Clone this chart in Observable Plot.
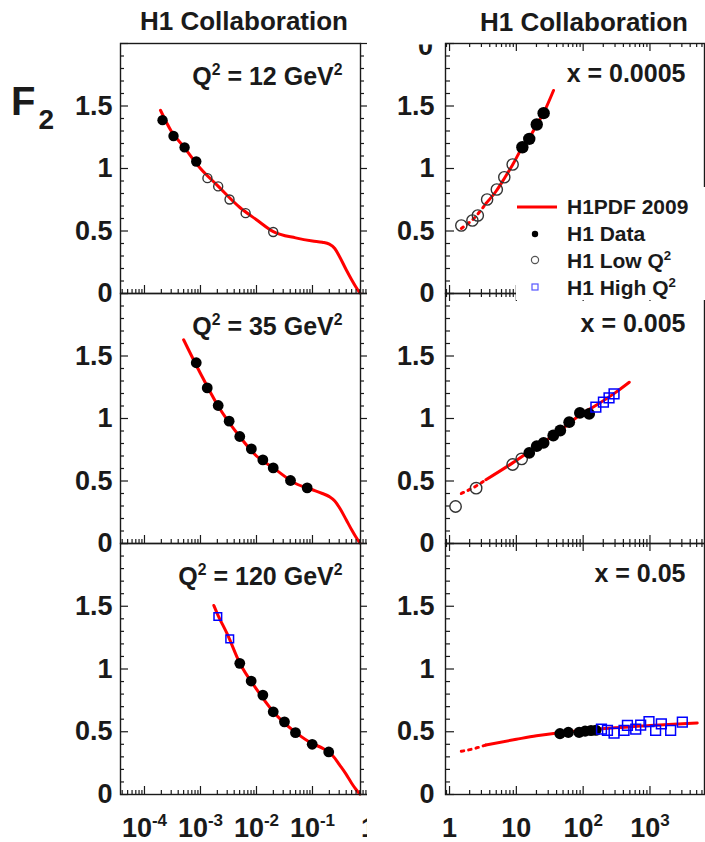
<!DOCTYPE html>
<html>
<head>
<meta charset="utf-8">
<script src="https://cdn.jsdelivr.net/npm/d3@7"></script>
<script src="https://cdn.jsdelivr.net/npm/@observablehq/plot@0.6"></script>
<style>
  body { margin: 0; background: #fff; }
  #root { position: relative; width: 705px; height: 842px; overflow: hidden; background: #fff;
          font-family: "Liberation Sans", Arial, Helvetica, sans-serif; font-weight: bold; }
</style>
</head>
<body>
<div id="root"></div>
<script>
// ---------------- tick labels and texts ----------------
const leftTicksX = [1e-4, 1e-3, 1e-2, 1e-1, 1];
const leftTickLabels = ["10^{-4}", "10^{-3}", "10^{-2}", "10^{-1}", "1"];
const rightTicksX = [1, 10, 100, 1000];
const rightTickLabels = ["1", "10", "10^{2}", "10^{3}"];
const yTicks = [0, 0.5, 1, 1.5];
const yTickLabels = ["0", "0.5", "1", "1.5"];
const titles = ["H1 Collaboration", "H1 Collaboration"];
const q2Labels = ["Q^{2} = 12 GeV^{2}", "Q^{2} = 35 GeV^{2}", "Q^{2} = 120 GeV^{2}"];
const xBinLabels = ["x = 0.0005", "x = 0.005", "x = 0.05"];
const legendLabels = ["H1PDF 2009", "H1 Data", "H1 Low Q^{2}", "H1 High Q^{2}"];

// ---------------- left column: F2 vs x ----------------
// Q2 = 12 GeV2
const q12H1X = [2.1e-4, 3.3e-4, 5.2e-4, 8.4e-4];
const q12H1F2 = [1.387, 1.26, 1.169, 1.056];
const q12LowX = [1.33e-3, 2.07e-3, 3.3e-3, 6.4e-3, 0.0199];
const q12LowF2 = [0.923, 0.857, 0.752, 0.643, 0.492];
const q12FitX = [1.93e-4, 3e-4, 5e-4, 1e-3, 2e-3, 5e-3, 0.01, 0.02, 0.05, 0.1, 0.15, 0.2, 0.25, 0.3, 0.4, 0.5, 0.6, 0.7];
const q12FitF2 = [1.466, 1.30, 1.175, 1.0, 0.865, 0.69, 0.59, 0.495, 0.445, 0.42, 0.41, 0.395, 0.36, 0.30, 0.19, 0.11, 0.05, 0.005];
// Q2 = 35 GeV2
const q35H1X = [8.4e-4, 1.32e-3, 2.07e-3, 3.25e-3, 5.03e-3, 8.1e-3, 0.013, 0.0199, 0.0405, 0.0804];
const q35H1F2 = [1.446, 1.245, 1.104, 0.979, 0.856, 0.757, 0.669, 0.605, 0.504, 0.445];
const q35FitX = [5e-4, 1e-3, 2e-3, 5e-3, 0.01, 0.02, 0.05, 0.1, 0.15, 0.2, 0.25, 0.3, 0.4, 0.5, 0.6, 0.7];
const q35FitF2 = [1.63, 1.36, 1.11, 0.856, 0.70, 0.605, 0.48, 0.43, 0.40, 0.375, 0.34, 0.29, 0.19, 0.11, 0.05, 0.005];
// Q2 = 120 GeV2
const q120HighX = [2.04e-3, 3.33e-3];
const q120HighF2 = [1.418, 1.24];
const q120H1X = [5.03e-3, 8.03e-3, 0.013, 0.0199, 0.0316, 0.0497, 0.0988, 0.195];
const q120H1F2 = [1.045, 0.904, 0.792, 0.659, 0.579, 0.493, 0.40, 0.339];
const q120FitX = [1.73e-3, 2e-3, 3e-3, 5e-3, 0.01, 0.02, 0.05, 0.1, 0.15, 0.2, 0.25, 0.3, 0.4, 0.5, 0.6, 0.7];
const q120FitF2 = [1.506, 1.44, 1.28, 1.05, 0.84, 0.66, 0.495, 0.405, 0.37, 0.335, 0.29, 0.24, 0.16, 0.09, 0.04, 0.003];

// ---------------- right column: F2 vs Q2 ----------------
// x = 0.0005
const x1LowQ2 = [1.5, 2.2, 2.65, 3.65, 5.1, 6.6, 8.8];
const x1LowF2 = [0.544, 0.584, 0.624, 0.752, 0.832, 0.93, 1.032];
const x1H1Q2 = [12.3, 15.6, 20.2, 25.6];
const x1H1F2 = [1.17, 1.237, 1.352, 1.443];
const x1DotQ2 = [1.5, 2.5, 3.5];
const x1DotF2 = [0.52, 0.62, 0.72];
const x1FitQ2 = [3.5, 5, 6.6, 8.8, 12.3, 15.6, 20.2, 25.6, 36];
const x1FitF2 = [0.72, 0.82, 0.92, 1.03, 1.17, 1.245, 1.35, 1.445, 1.624];
// x = 0.005
const x2LowQ2 = [1.23, 2.5, 8.8, 12.0];
const x2LowF2 = [0.296, 0.443, 0.632, 0.677];
const x2H1Q2 = [15.6, 20.2, 25.6, 35.7, 45.4, 61.8, 89.3, 123];
const x2H1F2 = [0.725, 0.779, 0.805, 0.864, 0.904, 0.971, 1.045, 1.037];
const x2HighQ2 = [155, 201, 244, 290];
const x2HighF2 = [1.091, 1.131, 1.165, 1.197];
const x2DotQ2 = [1.5, 2.5, 3.5];
const x2DotF2 = [0.40, 0.46, 0.51];
const x2FitQ2 = [3.5, 8.8, 20, 36, 60, 90, 150, 300, 490];
const x2FitF2 = [0.51, 0.645, 0.775, 0.865, 0.955, 1.03, 1.10, 1.205, 1.29];
// x = 0.05
const x3H1Q2 = [45, 60, 87, 107, 131, 155];
const x3H1F2 = [0.485, 0.495, 0.495, 0.505, 0.51, 0.512];
const x3HighQ2 = [188, 231, 290, 409, 460, 612, 726, 967, 1215, 1480, 2040, 3050];
const x3HighF2 = [0.52, 0.51, 0.49, 0.51, 0.55, 0.52, 0.553, 0.58, 0.51, 0.563, 0.51, 0.576];
const x3DotQ2 = [1.5, 2.5, 3.5];
const x3DotF2 = [0.344, 0.37, 0.395];
const x3FitQ2 = [3.5, 10, 20, 41, 100, 300, 1000, 5100];
const x3FitF2 = [0.395, 0.44, 0.468, 0.49, 0.51, 0.532, 0.55, 0.57];

// ---------------- helpers ----------------
const zipT = (xs, ys) => xs.map((x, i) => ({x, y: ys[i]}));
const ink = "#1a1a1a";
const red = "#ff0000";
const blue = "#0000ff";
const font = "'Liberation Sans', Arial, Helvetica, sans-serif";
const leftDomain = [3.73e-5, 0.72];
const rightDomain = [0.87, 6550];
const rowTop = [43, 293, 543];
const rowBottom = [293, 543, 794];

const yLabelMap = new Map(yTicks.map((v, i) => [v, yTickLabels[i]]));
const leftLabelMap = new Map(leftTicksX.map((v, i) => [v, leftTickLabels[i]]));
const rightLabelMap = new Map(rightTicksX.map((v, i) => [v, rightTickLabels[i]]));

const yMajor = [0, 0.5, 1, 1.5, 2];
const yMinor = d3.range(1, 20).filter(k => k % 5 !== 0).map(k => k / 10);
function logMinor(e0, e1, lo, hi) {
  const out = [];
  for (let e = e0; e <= e1; e++) for (let k = 2; k <= 9; k++) {
    const v = k * Math.pow(10, e);
    if (v > lo && v < hi) out.push(v);
  }
  return out;
}
const leftMajorX = [1e-4, 1e-3, 1e-2, 1e-1];
const leftMinorX = logMinor(-5, -1, 3.73e-5, 0.95);
const rightMajorX = [1, 10, 100, 1000];
const rightMinorX = logMinor(-1, 3, 0.87, 6550);

// turn "a^{b}c" into tspans with a real superscript
const svgNS = "http://www.w3.org/2000/svg";
function richText(container) {
  container.querySelectorAll("text").forEach(t => {
    if (t.querySelector("tspan")) return;
    const s = t.textContent || "";
    if (!s.includes("^{")) return;
    const parts = s.split(/(\^\{[^}]*\})/).filter(p => p.length);
    t.textContent = "";
    let raised = false;
    for (const p of parts) {
      const ts = document.createElementNS(svgNS, "tspan");
      if (p.startsWith("^{")) {
        ts.textContent = p.slice(2, -1);
        ts.setAttribute("font-size", "0.63em");
        ts.setAttribute("dy", "-0.6em");
        raised = true;
      } else {
        ts.textContent = p;
        if (raised) ts.setAttribute("dy", "0.378em");
        raised = false;
      }
      t.appendChild(ts);
    }
  });
}

function makePanel(c) {
  const L = c.side === "L";
  const top = rowTop[c.row], bot = rowBottom[c.row];
  const ph = bot - top;
  const mt = 22, mb = c.row === 2 ? 48 : 22;
  const x0 = L ? 120 : 445, x1 = L ? 360 : 704;
  const pw = x1 - x0;
  const majT = L ? 8 : 9, minT = L ? 4 : 5;
  const tk = {stroke: ink, strokeWidth: 1.2};
  const marks = [];
  // fit curve
  if (c.dotted) marks.push(Plot.line(c.dotted, {x: "x", y: "y", stroke: red, strokeWidth: 3, strokeDasharray: "2.5,5", curve: "monotone-x"}));
  marks.push(Plot.line(c.fit, {x: "x", y: "y", stroke: red, strokeWidth: 3, curve: "monotone-x"}));
  // frame and ticks
  marks.push(Plot.frame({stroke: ink, strokeWidth: 1.4}));
  marks.push(Plot.tickY(yMajor, {...tk, insetRight: pw - majT}));
  marks.push(Plot.tickY(yMinor, {...tk, insetRight: pw - minT}));
  marks.push(Plot.tickX(L ? leftMajorX : rightMajorX, {...tk, insetTop: ph - 8}));
  marks.push(Plot.tickX(L ? leftMinorX : rightMinorX, {...tk, insetTop: ph - 4}));
  if (L) {
    marks.push(Plot.tickY(yMajor, {...tk, insetLeft: pw, insetRight: -7}));
    marks.push(Plot.tickY(yMinor, {...tk, insetLeft: pw, insetRight: -4}));
    marks.push(Plot.ruleY([0], {x1: leftDomain[1], x2: 1, stroke: ink, strokeWidth: 1.4}));
  } else {
    marks.push(Plot.tickX(rightMajorX, {...tk, insetBottom: ph - 8}));
    marks.push(Plot.tickX(rightMinorX, {...tk, insetBottom: ph - 4}));
  }
  // axes labels
  marks.push(Plot.axisY({ticks: yTicks, anchor: "left", tickSize: 0, tickPadding: L ? 8 : 11,
    tickFormat: d => yLabelMap.get(d), label: null, fontSize: 27, fontWeight: "bold", fill: ink}));
  if (c.row === 2) {
    marks.push(Plot.axisX({ticks: L ? leftTicksX : rightTicksX, anchor: "bottom", tickSize: 0, tickPadding: 23,
      tickFormat: d => (L ? leftLabelMap : rightLabelMap).get(d), label: null, fontSize: 27, fontWeight: "bold", fill: ink}));
  }
  // data points
  if (c.low) marks.push(Plot.dot(c.low, {x: "x", y: "y", r: c.rLow, stroke: "#333", strokeWidth: 1.4, fill: "none"}));
  if (c.h1) marks.push(Plot.dot(c.h1, {x: "x", y: "y", r: c.rH1, fill: "#000", stroke: "none"}));
  if (c.high) marks.push(Plot.dot(c.high, {x: "x", y: "y", r: c.rHigh, symbol: "square", stroke: blue, strokeWidth: 1.5, fill: "none"}));
  // panel label
  marks.push(Plot.text([c.label], {frameAnchor: "top-right", textAnchor: "end", lineAnchor: "bottom",
    dx: L ? -18 : -19, dy: L ? 41 : 38, fontSize: 25, fontWeight: "bold", fill: ink}));

  const svg = Plot.plot({
    width: 705, height: mt + ph + mb,
    marginTop: mt, marginBottom: mb, marginLeft: x0, marginRight: 705 - x1,
    x: {type: "log", domain: L ? leftDomain : rightDomain, axis: null},
    y: {domain: [0, 2], axis: null},
    style: {fontFamily: font, fontWeight: "bold", fontSize: "27px", background: "transparent", overflow: "visible", color: ink},
    marks
  });
  richText(svg);
  svg.style.position = "absolute";
  svg.style.left = "0px";
  svg.style.top = (top - mt) + "px";
  svg.style.maxWidth = "none";
  return svg;
}

const root = document.getElementById("root");

const leftPanels = [
  {side: "L", row: 0, fit: zipT(q12FitX, q12FitF2), h1: zipT(q12H1X, q12H1F2), low: zipT(q12LowX, q12LowF2), rH1: 5.2, rLow: 4.5, label: q2Labels[0]},
  {side: "L", row: 1, fit: zipT(q35FitX, q35FitF2), h1: zipT(q35H1X, q35H1F2), rH1: 5.4, label: q2Labels[1]},
  {side: "L", row: 2, fit: zipT(q120FitX, q120FitF2), h1: zipT(q120H1X, q120H1F2), high: zipT(q120HighX, q120HighF2), rH1: 5.4, rHigh: 4.3, label: q2Labels[2]}
];
const rightPanels = [
  {side: "R", row: 0, fit: zipT(x1FitQ2, x1FitF2), dotted: zipT(x1DotQ2, x1DotF2), h1: zipT(x1H1Q2, x1H1F2), low: zipT(x1LowQ2, x1LowF2), rH1: 6.2, rLow: 5.6, label: xBinLabels[0]},
  {side: "R", row: 1, fit: zipT(x2FitQ2, x2FitF2), dotted: zipT(x2DotQ2, x2DotF2), h1: zipT(x2H1Q2, x2H1F2), low: zipT(x2LowQ2, x2LowF2), high: zipT(x2HighQ2, x2HighF2), rH1: 5.9, rLow: 5.7, rHigh: 5.5, label: xBinLabels[1]},
  {side: "R", row: 2, fit: zipT(x3FitQ2, x3FitF2), dotted: zipT(x3DotQ2, x3DotF2), h1: zipT(x3H1Q2, x3H1F2), high: zipT(x3HighQ2, x3HighF2), rH1: 5.6, rHigh: 5.5, label: xBinLabels[2]}
];

leftPanels.forEach(c => root.appendChild(makePanel(c)));

// white pad behind the right column (covers the overflow of the left pads)
const pad = document.createElement("div");
pad.style.cssText = "position:absolute;left:367px;top:36px;width:338px;height:806px;background:#fff;";
root.appendChild(pad);

rightPanels.forEach(c => root.appendChild(makePanel(c)));

// legend box
const leg = document.createElement("div");
leg.style.cssText = "position:absolute;left:516px;top:187px;width:189px;height:113px;background:#fff;";
leg.innerHTML = `
<svg width="189" height="113" style="font-family:${font};font-weight:bold;font-size:21px;fill:${ink}">
  <line x1="1" x2="41" y1="20" y2="20" stroke="${red}" stroke-width="3"/>
  <circle cx="19" cy="47" r="3.2" fill="#000"/>
  <circle cx="19" cy="73" r="3.6" fill="none" stroke="#555" stroke-width="1.2"/>
  <rect x="16" y="97" width="6" height="6" fill="none" stroke="#5555ff" stroke-width="1.2"/>
  <text x="51" y="27">${legendLabels[0]}</text>
  <text x="51" y="54">${legendLabels[1]}</text>
  <text x="51" y="81">${legendLabels[2]}</text>
  <text x="51" y="108">${legendLabels[3]}</text>
</svg>`;
richText(leg);
root.appendChild(leg);

// overlay: titles, F2 label, clipped label at top right
const ov = document.createElement("div");
ov.style.cssText = "position:absolute;left:0;top:0;width:705px;height:842px;pointer-events:none;";
ov.innerHTML = `
<svg width="705" height="842" style="font-family:${font};font-weight:bold;fill:${ink}">
  <defs><clipPath id="topclip"><rect x="400" y="44.5" width="40" height="20"/></clipPath></defs>
  <text x="244" y="30" text-anchor="middle" font-size="26">${titles[0]}</text>
  <text x="584" y="31" text-anchor="middle" font-size="26">${titles[1]}</text>
  <text x="11" y="115" font-size="40">F<tspan font-size="28" dx="3" dy="14">2</tspan></text>
  <text x="433" y="55" text-anchor="end" font-size="27" clip-path="url(#topclip)">0</text>
</svg>`;
root.appendChild(ov);
</script>
</body>
</html>
